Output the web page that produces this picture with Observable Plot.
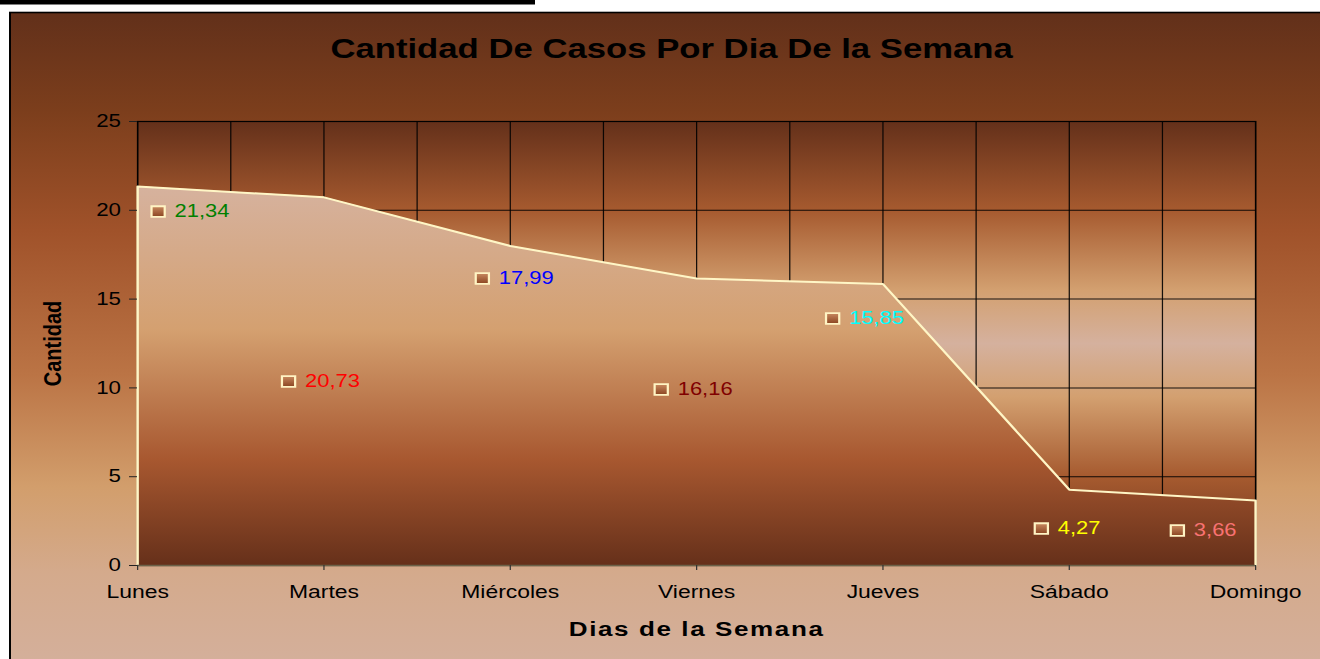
<!DOCTYPE html>
<html>
<head>
<meta charset="utf-8">
<script src="https://cdn.jsdelivr.net/npm/d3@7"></script>
<script src="https://cdn.jsdelivr.net/npm/@observablehq/plot@0.6"></script>
<style>
  html, body { margin: 0; padding: 0; background: #fff; overflow: hidden; }
  #chart { width: 1320px; height: 659px; }
</style>
</head>
<body>
<div id="chart"></div>
<script>
// ---- data ----
const title = "Cantidad De Casos Por Dia De la Semana";
const xLabel = "Dias de la Semana";
const yLabel = "Cantidad";
const days = ["Lunes", "Martes", "Miércoles", "Viernes", "Jueves", "Sábado", "Domingo"];
const cases = [21.34, 20.73, 17.99, 16.16, 15.85, 4.27, 3.66];
const yTicks = [0, 5, 10, 15, 20, 25];
// data-label anchors (in category-index / value units), as placed in the picture
const labelAtX = [0.11, 0.81, 1.85, 2.81, 3.73, 4.85, 5.58];
const labelAtY = [19.93, 10.36, 16.16, 9.91, 13.91, 2.08, 1.97];
const labelColors = ["#008000", "#ff0000", "#0000ff", "#800000", "#00ffff", "#ffff00", "#f87272"];

// ---- derived tables ----
const rows = days.map((d, i) => ({i, day: d, v: cases[i]}));
const outline = [{i: 0, v: 0}, ...rows, {i: days.length - 1, v: 0}];
const labels = rows.map((r, k) => ({
  lx: labelAtX[k], ly: labelAtY[k], c: labelColors[k],
  t: r.v.toFixed(2).replace(".", ",")
}));
const gridX = d3.range(0, days.length - 0.99, 0.5);

// the original picture is horizontally stretched; draw in a narrower space and stretch
const FULL_W = 1320, H = 659;
const W = 1065;
const S = FULL_W / W;

const outerBg = () => {
  const g = d3.create("svg:g");
  g.append("rect").attr("x", 10 / S).attr("y", 12.5).attr("width", W).attr("height", H)
    .attr("fill", "url(#outerGrad)").attr("stroke", "#000").attr("stroke-width", 1.6);
  g.append("rect").attr("x", 0).attr("y", 0).attr("width", 535 / S).attr("height", 4.5)
    .attr("fill", "#000");
  return g.node();
};

const svg = Plot.plot({
  width: W,
  height: H,
  marginLeft: 137 / S,
  marginRight: 65 / S,
  marginTop: 121,
  marginBottom: 94,
  x: {domain: [0, days.length - 1], axis: null, label: null},
  y: {domain: [0, 25], axis: null, label: null},
  color: {type: "identity"},
  style: {fontFamily: "'Liberation Sans', Arial, Helvetica, sans-serif", background: "transparent", color: "#000"},
  marks: [
    outerBg,
    Plot.frame({fill: "url(#plotBg)"}),
    Plot.ruleX(gridX, {stroke: "#000", strokeWidth: 1, strokeOpacity: 0.9}),
    Plot.ruleY(yTicks.filter(t => t > 0), {stroke: "#000", strokeWidth: 1, strokeOpacity: 0.9}),
    Plot.frame({stroke: "#000", strokeWidth: 1.2}),
    Plot.areaY(rows, {x: "i", y: "v", fill: "url(#areaGrad)"}),
    Plot.line(outline, {x: "i", y: "v", stroke: "#fff6c6", strokeWidth: 2}),
    Plot.ruleY([0], {stroke: "#6b6248", strokeWidth: 1.5}),
    Plot.axisY({ticks: yTicks, tickSize: 8 / S, tickPadding: 7, fontSize: 18, stroke: "#222", fill: "#000", tickFormat: d => d}),
    Plot.axisX({ticks: d3.range(days.length), tickFormat: i => days[i], tickSize: 5, tickPadding: 14, fontSize: 18.5, stroke: "#333", fill: "#000"}),
    Plot.dot(labels, {x: "lx", y: "ly", symbol: "square", r: 6, fill: "url(#mkGrad)", stroke: "#fff4c4", strokeWidth: 1.8}),
    Plot.text(labels, {x: "lx", y: "ly", text: "t", fill: "c", textAnchor: "start", dx: 16.5 / S, fontSize: 17.7}),
    Plot.text([title], {text: d => d, frameAnchor: "top", textAnchor: "middle", lineAnchor: "middle", dy: -72, dx: -25 / S, fontSize: 28, fontWeight: "bold", fill: "#000"}),
    Plot.text([yLabel], {text: d => d, frameAnchor: "left", textAnchor: "middle", lineAnchor: "middle", rotate: -90, dx: (52 - 137) / S, fontSize: 20, fontWeight: "bold", fill: "#000"}),
    Plot.text([xLabel], {text: d => d, frameAnchor: "bottom", textAnchor: "middle", lineAnchor: "middle", dy: 64, fontSize: 21, fontWeight: "bold", fill: "#000"})
  ]
});

d3.select(svg).insert("defs", ":first-child").html(`
  <linearGradient id="outerGrad" x1="0" y1="0" x2="0" y2="1">
    <stop offset="0" stop-color="#62301a"/>
    <stop offset="0.15" stop-color="#7c3e1c"/>
    <stop offset="0.33" stop-color="#a0522a"/>
    <stop offset="0.55" stop-color="#bb7445"/>
    <stop offset="0.72" stop-color="#d29e6c"/>
    <stop offset="0.85" stop-color="#d4aa8c"/>
    <stop offset="1" stop-color="#d4b09c"/>
  </linearGradient>
  <linearGradient id="plotBg" x1="0" y1="0" x2="0" y2="1">
    <stop offset="0" stop-color="#64301a"/>
    <stop offset="0.2" stop-color="#a65a2f"/>
    <stop offset="0.38" stop-color="#d3a070"/>
    <stop offset="0.5" stop-color="#d5b19e"/>
    <stop offset="0.62" stop-color="#d3a070"/>
    <stop offset="0.8" stop-color="#a65a2f"/>
    <stop offset="1" stop-color="#64301a"/>
  </linearGradient>
  <linearGradient id="areaGrad" x1="0" y1="0" x2="0" y2="1">
    <stop offset="0" stop-color="#d6b29e"/>
    <stop offset="0.38" stop-color="#d4a070"/>
    <stop offset="0.72" stop-color="#a85830"/>
    <stop offset="1" stop-color="#66301a"/>
  </linearGradient>
  <linearGradient id="mkGrad" x1="0" y1="0" x2="0" y2="1">
    <stop offset="0" stop-color="#c98a60"/>
    <stop offset="1" stop-color="#8a4420"/>
  </linearGradient>
`);

svg.setAttribute("width", FULL_W);
svg.setAttribute("height", H);
svg.setAttribute("viewBox", `0 0 ${W} ${H}`);
svg.setAttribute("preserveAspectRatio", "none");
svg.style.width = FULL_W + "px";
svg.style.height = H + "px";
svg.style.maxWidth = "none";
svg.querySelectorAll("text").forEach(t => {
  if (t.textContent === xLabel) t.setAttribute("letter-spacing", "1.3");
});
document.getElementById("chart").appendChild(svg);
</script>
</body>
</html>
